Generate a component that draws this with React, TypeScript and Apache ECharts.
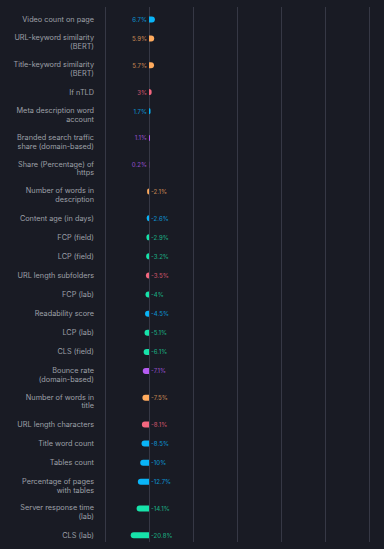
import React, { useEffect, useRef } from "react";
import * as echarts from "echarts";

const categories = [
  "Video count on page",
  "URL-keyword similarity\n(BERT)",
  "Title-keyword similarity\n(BERT)",
  "If nTLD",
  "Meta description word\naccount",
  "Branded search traffic\nshare (domain-based)",
  "Share (Percentage) of\nhttps",
  "Number of words in\ndescription",
  "Content age (in days)",
  "FCP (field)",
  "LCP (field)",
  "URL length subfolders",
  "FCP (lab)",
  "Readability score",
  "LCP (lab)",
  "CLS (field)",
  "Bounce rate\n(domain-based)",
  "Number of words in\ntitle",
  "URL length characters",
  "Title word count",
  "Tables count",
  "Percentage of pages\nwith tables",
  "Server response time\n(lab)",
  "CLS (lab)",
];

const values = [
  6.7, 5.9, 5.7, 3, 1.7, 1.1, 0.2, -2.1, -2.6, -2.9, -3.2, -3.5, -4, -4.5, -5.1,
  -6.1, -7.1, -7.5, -8.1, -8.5, -10, -12.7, -14.1, -20.8,
];

const groups = [
  "blue", "orange", "orange", "pink", "blue", "purple", "purple", "orange",
  "blue", "green", "green", "pink", "green", "blue", "green", "green",
  "purple", "orange", "pink", "blue", "blue", "blue", "green", "green",
];

const palette: Record<string, [string, string]> = {
  blue: ["#0ab4f7", "rgba(10,170,235,0.8)"],
  orange: ["#ffab5e", "rgba(230,160,95,0.78)"],
  pink: ["#f2677f", "rgba(230,95,120,0.8)"],
  purple: ["#b65cf2", "rgba(170,90,225,0.8)"],
  green: ["#17e3aa", "rgba(25,200,150,0.8)"],
};

export default function App() {
  const ref = useRef<HTMLDivElement>(null);
  useEffect(() => {
    document.body.style.margin = "0";
    document.body.style.background = "#191b24";
    const chart = echarts.init(ref.current!, null, { renderer: "svg" });

    // layout slots: single-line rows take 10 slots, two-line rows 14
    const slotNames: string[] = [];
    const slotLabels: string[] = [];
    const slotData: any[] = [];
    categories.forEach((c, i) => {
      const lines = c.split("\n").length;
      const n = lines > 1 ? 14 : 10;
      const start = slotNames.length;
      for (let k = 0; k < n; k++) {
        slotNames.push("s" + (start + k));
        slotLabels.push("");
        slotData.push("-");
      }
      const barSlot = start + 6;
      const labelSlot = lines > 1 ? barSlot + 2 : barSlot;
      slotLabels[labelSlot] = c;
      const v = values[i];
      const [col, lcol] = palette[groups[i]];
      slotData[barSlot] = {
        value: v,
        itemStyle: {
          color: col,
          borderRadius: v >= 0 ? [0, 3, 3, 0] : [3, 0, 0, 3],
        },
        label: {
          show: true,
          position: v >= 0 ? "left" : "right",
          distance: 2,
          color: lcol,
          fontSize: 6,
          fontFamily: "Inter",
          fontWeight: 500,
          formatter: "{c}%",
        },
      };
    });

    chart.setOption({
      animation: false,
      backgroundColor: "#191b24",
      grid: { left: 105, right: 15, top: 7, bottom: 7, containLabel: false },
      xAxis: {
        type: "value",
        min: -50,
        max: 250,
        interval: 50,
        axisLabel: { show: false },
        axisLine: { show: false },
        axisTick: { show: false },
        splitLine: { show: true, lineStyle: { color: "#363845", width: 1 } },
      },
      yAxis: {
        type: "category",
        inverse: true,
        data: slotNames,
        axisLine: { show: false },
        axisTick: { show: false },
        splitLine: { show: false },
        axisLabel: {
          interval: 0,
          margin: 11,
          color: "#9ea0a8",
          fontSize: 7.3,
          lineHeight: 8.8,
          fontFamily: "Inter",
          align: "right",
          formatter: (_v: string, idx: number) => slotLabels[idx],
        },
      },
      series: [
        {
          type: "bar",
          data: slotData,
          barWidth: 6,
          silent: true,
        },
      ],
    });
    return () => chart.dispose();
  }, []);
  return (
    <div
      ref={ref}
      style={{ position: "fixed", left: 0, top: 0, width: 384, height: 549 }}
    />
  );
}
